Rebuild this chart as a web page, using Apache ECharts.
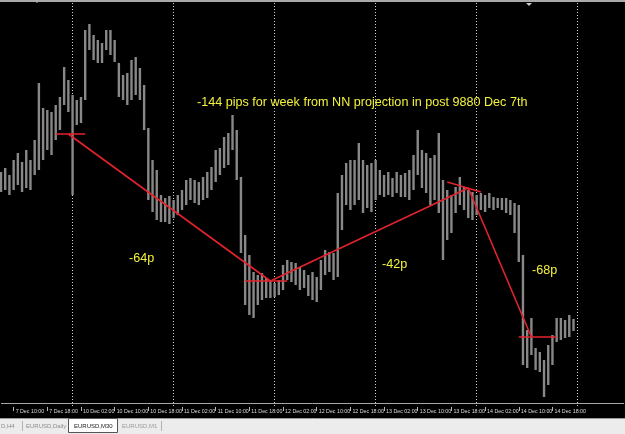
<!DOCTYPE html>
<html>
<head>
<meta charset="utf-8">
<script src="https://cdn.jsdelivr.net/npm/echarts@6/dist/echarts.min.js"></script>
<style>
html, body { margin: 0; padding: 0; background: #000; }
#main { width: 625px; height: 434px; }
</style>
</head>
<body>
<div id="main"></div>
<script>
// EURUSD hourly bars, 7 Dec 07:00 .. 14 Dec 23:00 (empty room to the right like MT4 shift)
var days = ['7 Dec', '10 Dec', '11 Dec', '12 Dec', '13 Dec', '14 Dec', '15 Dec'];

var barHigh = [
  1.30155, 1.30175, 1.30140, 1.30215, 1.30250, 1.30205, 1.30265, 1.30215, 1.30315, 1.30600,
  1.30475, 1.30465, 1.30455, 1.30490, 1.30530, 1.30680, 1.30615, 1.30540, 1.30515, 1.30530,
  1.30865, 1.30895, 1.30840, 1.30815, 1.30800, 1.30865, 1.30865, 1.30815, 1.30700, 1.30640,
  1.30650, 1.30715, 1.30730, 1.30675, 1.30590, 1.30375, 1.30215, 1.30165, 1.30040, 1.30025,
  1.30035, 1.30015, 1.30040, 1.30065, 1.30115, 1.30125, 1.30115, 1.30105, 1.30130, 1.30155,
  1.30180, 1.30265, 1.30275, 1.30330, 1.30350, 1.30440, 1.30365, 1.30130, 1.29840, 1.29740,
  1.29655, 1.29640, 1.29650, 1.29625, 1.29615, 1.29600, 1.29615, 1.29690, 1.29715, 1.29705,
  1.29700, 1.29680, 1.29665, 1.29640, 1.29655, 1.29630, 1.29715, 1.29765, 1.29755, 1.29750,
  1.30050, 1.30140, 1.30200, 1.30215, 1.30215, 1.30300, 1.30215, 1.30190, 1.30200, 1.30215,
  1.30165, 1.30140, 1.30155, 1.30125, 1.30155, 1.30140, 1.30150, 1.30165, 1.30240, 1.30365,
  1.30265, 1.30250, 1.30225, 1.30240, 1.30350, 1.30115, 1.30065, 1.30040, 1.30080, 1.30130,
  1.30080, 1.30065, 1.30055, 1.30040, 1.30050, 1.30040, 1.30050, 1.30030, 1.30025, 1.30025,
  1.30025, 1.30015, 1.30000, 1.29990, 1.29740, 1.29365, 1.29425, 1.29275, 1.29255, 1.29215,
  1.29290, 1.29340, 1.29425, 1.29425, 1.29415, 1.29440, 1.29420
];
var barLow = [
  1.30055, 1.30065, 1.30040, 1.30065, 1.30090, 1.30055, 1.30075, 1.30065, 1.30140, 1.30165,
  1.30215, 1.30265, 1.30240, 1.30315, 1.30365, 1.30490, 1.30455, 1.30040, 1.30390, 1.30400,
  1.30515, 1.30765, 1.30715, 1.30700, 1.30700, 1.30765, 1.30740, 1.30705, 1.30530, 1.30515,
  1.30490, 1.30515, 1.30540, 1.30515, 1.30365, 1.30015, 1.29955, 1.29915, 1.29905, 1.29905,
  1.29895, 1.29925, 1.29940, 1.29965, 1.29990, 1.30015, 1.30000, 1.29990, 1.30015, 1.30025,
  1.30065, 1.30105, 1.30140, 1.30175, 1.30190, 1.30265, 1.30115, 1.29750, 1.29490, 1.29440,
  1.29425, 1.29490, 1.29515, 1.29525, 1.29525, 1.29530, 1.29540, 1.29565, 1.29615, 1.29605,
  1.29590, 1.29565, 1.29575, 1.29535, 1.29515, 1.29505, 1.29565, 1.29640, 1.29655, 1.29615,
  1.29630, 1.29865, 1.29990, 1.29965, 1.29990, 1.30015, 1.29950, 1.29975, 1.29955, 1.30015,
  1.30040, 1.30030, 1.30040, 1.30030, 1.30050, 1.30030, 1.30030, 1.30015, 1.30065, 1.30140,
  1.30075, 1.30050, 1.29990, 1.30015, 1.29950, 1.29715, 1.29815, 1.29850, 1.29950, 1.29990,
  1.29965, 1.29925, 1.29915, 1.29940, 1.29965, 1.29955, 1.29975, 1.29965, 1.29975, 1.29965,
  1.29950, 1.29940, 1.29850, 1.29705, 1.29190, 1.29175, 1.29240, 1.29165, 1.29155, 1.29030,
  1.29090, 1.29190, 1.29305, 1.29315, 1.29325, 1.29330, 1.29360
];

var bidPrice = 1.2936;

// red projection lines drawn on the chart
var trendLine = [['7 Dec 23:00', 1.30345], ['11 Dec 23:00', 1.2961], ['13 Dec 22:00', 1.30075], ['14 Dec 13:00', 1.2933]];
var levelMarks = [
  [['7 Dec 20:00', 1.30345], ['10 Dec 03:00', 1.30345]],
  [['11 Dec 17:00', 1.2961], ['12 Dec 03:00', 1.2961]],
  [['13 Dec 17:00', 1.30105], ['14 Dec 01:00', 1.30055]],
  [['14 Dec 10:00', 1.2933], ['14 Dec 19:00', 1.2933]]
];

var times = [];
days.forEach(function (d, k) {
  var h0 = k === 0 ? 7 : 0;
  var h1 = k === days.length - 1 ? 11 : 23;
  for (var h = h0; h <= h1; h++) times.push(d + ' ' + (h < 10 ? '0' : '') + h + ':00');
});

var bars = barHigh.map(function (h, i) { return [i, barLow[i], h]; });

function labelAt(i) { return i < barHigh.length && (i - 3) % 8 === 0; }
function dayStart(i) { return i >= 17 && (i - 17) % 24 === 0; }

var red = '#e3232b';
var series = [{
  type: 'custom',
  data: bars,
  encode: { x: 0, y: [1, 2] },
  renderItem: function (params, api) {
    var top = api.coord([api.value(0), api.value(2)]);
    var bot = api.coord([api.value(0), api.value(1)]);
    return {
      type: 'rect',
      shape: { x: top[0] - 1.2, y: top[1], width: 2.4, height: Math.max(1, bot[1] - top[1]) },
      style: { fill: '#888888' }
    };
  },
  markLine: {
    silent: true, symbol: 'none', label: { show: false },
    lineStyle: { color: '#a6a6a6', width: 1, type: 'solid' },
    data: [{ yAxis: bidPrice }]
  },
  z: 2
}, {
  type: 'line', data: trendLine, symbol: 'none', silent: true,
  lineStyle: { color: red, width: 1.6 }, z: 5
}];
levelMarks.forEach(function (seg) {
  series.push({ type: 'line', data: seg, symbol: 'none', silent: true, lineStyle: { color: red, width: 1.6 }, z: 5 });
});

var yellow = '#f2f23e';
var font = 'Liberation Sans, Arial, sans-serif';
function note(x, y, txt) {
  return { type: 'text', x: x, y: y, z: 50, style: { text: txt, fill: yellow, font: '12.6px ' + font, verticalAlign: 'middle' } };
}
function tabText(x, txt, col) {
  return { type: 'text', x: x, y: 426, z: 102, style: { text: txt, fill: col, font: '6px ' + font, verticalAlign: 'middle' } };
}
function vline(x, y1, y2, col) {
  return { type: 'line', z: 102, shape: { x1: x, y1: y1, x2: x, y2: y2 }, style: { stroke: col, lineWidth: 1 } };
}

var myChart = echarts.init(document.getElementById('main'));
var option = {
  backgroundColor: '#000',
  animation: false,
  grid: { left: 1, right: 1, top: 3, bottom: 27 },
  xAxis: {
    type: 'category',
    data: times,
    boundaryGap: false,
    axisLine: { show: false },
    axisTick: { show: true, interval: labelAt, length: 4, lineStyle: { color: '#b8b8b8' } },
    axisLabel: {
      interval: labelAt, align: 'left', margin: 2, padding: [0, 0, 0, 2],
      fontSize: 5.3, fontFamily: font, color: '#dcdcdc'
    },
    splitLine: { show: true, interval: dayStart, lineStyle: { color: '#d4d4d4', width: 1, type: [1, 2] } }
  },
  yAxis: {
    type: 'value', min: 1.2898, max: 1.3100,
    axisLine: { show: false }, axisTick: { show: false }, axisLabel: { show: false }, splitLine: { show: false }
  },
  series: series,
  graphic: [
    { type: 'rect', z: 100, shape: { x: 0, y: 0, width: 625, height: 2 }, style: { fill: '#a9a9a9' } },
    vline(37, 0, 3, '#bdbdbd'),
    { type: 'polygon', z: 100, shape: { points: [[526, 3], [532, 3], [529, 6]] }, style: { fill: '#c8c8c8' } },
    note(197, 103, '-144 pips for week from NN projection in post 9880 Dec 7th'),
    note(129, 259, '-64p'),
    note(382, 265, '-42p'),
    note(532, 271, '-68p'),
    { type: 'rect', z: 100, shape: { x: 0, y: 418, width: 625, height: 16 }, style: { fill: '#ececec' } },
    { type: 'line', z: 101, shape: { x1: 0, y1: 418.5, x2: 625, y2: 418.5 }, style: { stroke: '#9a9a9a', lineWidth: 1 } },
    { type: 'rect', z: 101, shape: { x: 68.5, y: 418.5, width: 49, height: 14 }, style: { fill: '#fff', stroke: '#555', lineWidth: 1 } },
    vline(22.5, 421, 431, '#b4b4b4'),
    vline(161.5, 421, 431, '#b4b4b4'),
    tabText(1, 'D,H4', '#8c8c8c'),
    tabText(26, 'EURUSD,Daily', '#8c8c8c'),
    tabText(74, 'EURUSD,M30', '#222'),
    tabText(122, 'EURUSD,M1', '#9a9a9a')
  ]
};
myChart.setOption(option);

window.addEventListener('resize', function () {
  myChart.resize();
});
</script>
</body>
</html>
